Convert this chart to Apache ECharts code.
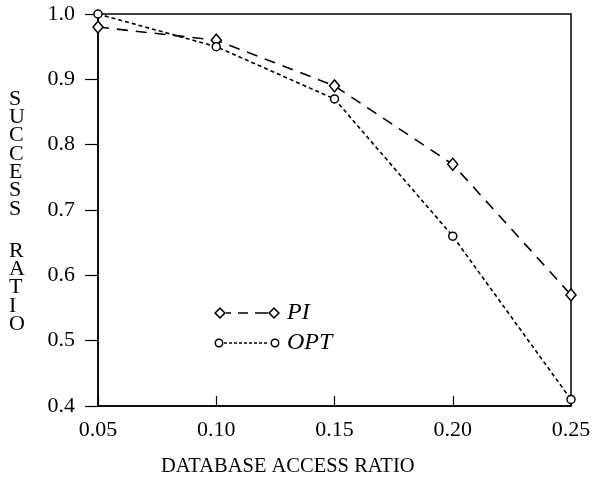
<!DOCTYPE html>
<html>
<head>
<meta charset="utf-8">
<script src="https://cdn.jsdelivr.net/npm/echarts@6/dist/echarts.min.js"></script>
<style>
html, body { margin: 0; padding: 0; background: #fff; }
#container { width: 596px; height: 488px; }
</style>
</head>
<body>
<div id="container"></div>
<script>
// 数据
var accessRatio = [0.05, 0.10, 0.15, 0.20, 0.25];
var piValues = [0.98, 0.96, 0.89, 0.77, 0.57];
var optValues = [1.00, 0.95, 0.87, 0.66, 0.41];
var seriesNames = ['PI', 'OPT'];

function pairs(xs, ys) {
    var out = [];
    for (var i = 0; i < xs.length; i++) out.push([xs[i], ys[i]]);
    return out;
}

// 图例图标：两端带标记的虚线
function diamondAt(cx) {
    return 'M' + cx + ' 0L' + (cx + 6) + ' 6L' + cx + ' 12L' + (cx - 6) + ' 6Z' +
        'M' + cx + ' 2.2L' + (cx - 3.8) + ' 6L' + cx + ' 9.8L' + (cx + 3.8) + ' 6Z';
}
function circleAt(cx) {
    return 'M' + (cx - 4.5) + ' 6A4.5 4.5 0 1 1 ' + (cx + 4.5) + ' 6A4.5 4.5 0 1 1 ' + (cx - 4.5) + ' 6Z' +
        'M' + (cx - 3) + ' 6A3 3 0 1 0 ' + (cx + 3) + ' 6A3 3 0 1 0 ' + (cx - 3) + ' 6Z';
}
function dash(x0, len) {
    return 'M' + x0 + ' 5.2h' + len + 'v1.6h-' + len + 'Z';
}
var piIcon = 'path://' + diamondAt(6) + dash(12, 5) + dash(24, 10) + dash(41, 13) + diamondAt(60);
var optIconPath = circleAt(5);
for (var x = 10; x < 55; x += 5) optIconPath += dash(x, 3);
optIconPath += circleAt(61) + 'M0 0h0.01v0.01h-0.01Z' + 'M66 12h0.01v0.01h-0.01Z';
var optIcon = 'path://' + optIconPath;

var serif = '"Liberation Serif", "DejaVu Serif", serif';
var dom = document.getElementById("container");
var myChart = echarts.init(dom);
var option = {
    backgroundColor: '#fff',
    animation: false,
    grid: {
        left: 98, right: 25, top: 14, bottom: 82,
        show: true, borderColor: '#000', borderWidth: 1.5
    },
    legend: {
        orient: 'vertical',
        left: 209, top: 296,
        itemWidth: 66, itemHeight: 12, itemGap: 6,
        textStyle: { fontFamily: serif, fontStyle: 'italic', fontSize: 24, color: '#000', padding: [0, 0, 0, 2] },
        data: [
            { name: seriesNames[0], icon: piIcon, itemStyle: { color: '#000', borderWidth: 0 } },
            { name: seriesNames[1], icon: optIcon, itemStyle: { color: '#000', borderWidth: 0 } }
        ]
    },
    graphic: [{
        type: 'text',
        left: 9, top: 88,
        style: {
            text: 'S\nU\nC\nC\nE\nS\nS',
            font: '22px ' + serif,
            lineHeight: 18.3,
            fill: '#000',
            align: 'center'
        }
    }, {
        type: 'text',
        left: 9, top: 240,
        style: {
            text: 'R\nA\nT\nI\nO',
            font: '22px ' + serif,
            lineHeight: 18.3,
            fill: '#000',
            align: 'center'
        }
    }, {
        type: 'text',
        left: 161, top: 456,
        style: {
            text: 'DATABASE ACCESS RATIO',
            font: '20.5px ' + serif,
            fill: '#000'
        }
    }],
    xAxis: {
        type: 'value',
        min: 0.05, max: 0.25, interval: 0.05,
        axisLine: { lineStyle: { color: '#000', width: 1.5 } },
        axisTick: { inside: true, length: 10, lineStyle: { color: '#000', width: 1.2 } },
        axisLabel: {
            margin: 13, fontFamily: serif, fontSize: 22, color: '#000',
            formatter: function (v) { return v.toFixed(2); }
        },
        splitLine: { show: false }
    },
    yAxis: {
        type: 'value',
        min: 0.4, max: 1.0, interval: 0.1,
        axisLine: { lineStyle: { color: '#000', width: 1.5 } },
        axisTick: { inside: false, length: 13, lineStyle: { color: '#000', width: 1.2 } },
        axisLabel: {
            margin: 23, fontFamily: serif, fontSize: 22, color: '#000',
            formatter: function (v) { return v.toFixed(1); }
        },
        splitLine: { show: false }
    },
    series: [
        {
            name: seriesNames[0],
            type: 'line',
            data: pairs(accessRatio, piValues),
            symbol: 'diamond',
            symbolSize: [10, 12],
            itemStyle: { color: '#fff', borderColor: '#000', borderWidth: 1.5 },
            lineStyle: { color: '#000', width: 1.6, type: [11, 8] }
        },
        {
            name: seriesNames[1],
            type: 'line',
            data: pairs(accessRatio, optValues),
            symbol: 'circle',
            symbolSize: 8,
            itemStyle: { color: '#fff', borderColor: '#000', borderWidth: 1.5 },
            lineStyle: { color: '#000', width: 1.6, type: [4, 3] }
        }
    ]
};

if (option && typeof option === 'object') {
    myChart.setOption(option);
}
</script>
</body>
</html>
